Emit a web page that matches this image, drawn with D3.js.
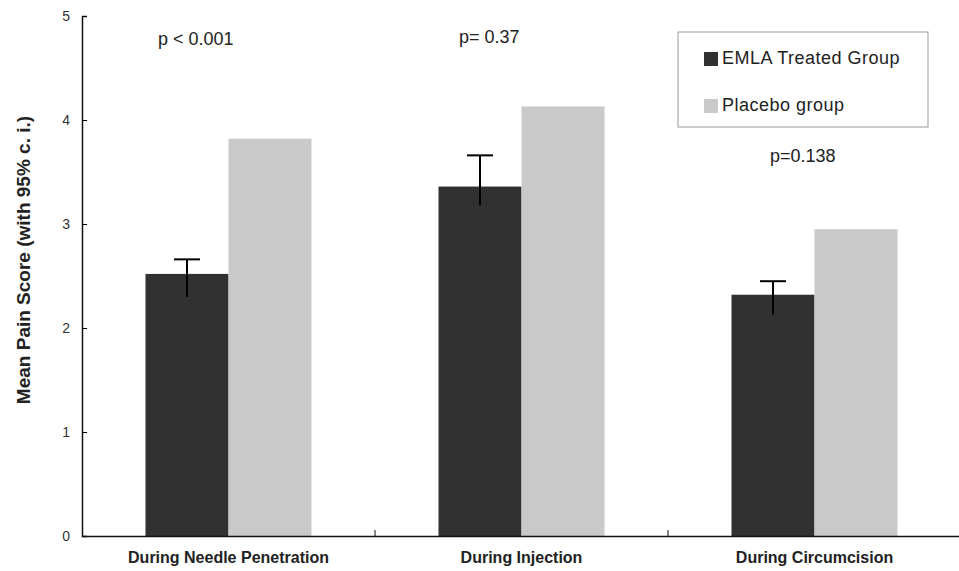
<!DOCTYPE html>
<html>
<head>
<meta charset="utf-8">
<script src="https://cdn.jsdelivr.net/npm/d3@7"></script>
<style>
  body { margin: 0; background: #fff; }
  text { font-family: Arial, "Liberation Sans", sans-serif; }
</style>
</head>
<body>
<script>
// data
var categories = ["During Needle Penetration", "During Injection", "During Circumcision"];
var groups = ["EMLA Treated Group", "Placebo group"];
var emla = [2.52, 3.36, 2.32];
var emlaLow = [2.30, 3.18, 2.13];
var emlaHigh = [2.66, 3.66, 2.45];
var placebo = [3.82, 4.13, 2.95];
var pLabels = ["p < 0.001", "p= 0.37", "p=0.138"];
var pLevels = [4.72, 4.74, 3.6];
var yTicks = [0, 1, 2, 3, 4, 5];

var width = 959, height = 571;
var margin = {top: 16, right: 0, bottom: 35, left: 82};

var svg = d3.select("body").append("svg")
    .attr("width", width)
    .attr("height", height);

var x = d3.scaleBand()
    .domain(categories)
    .range([margin.left, margin.left + 3 * 293]);

var y = d3.scaleLinear()
    .domain([0, 5])
    .range([height - margin.bottom, margin.top]);

var barW = 83;
var colors = d3.scaleOrdinal().domain(groups).range(["#313131", "#c9c9c9"]);

var rows = categories.map((c, i) => {
    return {cat: c, emla: emla[i], lo: emlaLow[i], hi: emlaHigh[i], placebo: placebo[i]};
});

var g = svg.append("g");

g.selectAll("rect.emla").data(rows).enter()
    .append("rect")
        .attr("class", "emla")
        .attr("x", (d) => x(d.cat) + x.bandwidth() / 2 - barW)
        .attr("y", (d) => y(d.emla))
        .attr("width", barW)
        .attr("height", (d) => y(0) - y(d.emla))
        .attr("fill", colors(groups[0]));

g.selectAll("rect.placebo").data(rows).enter()
    .append("rect")
        .attr("class", "placebo")
        .attr("x", (d) => x(d.cat) + x.bandwidth() / 2)
        .attr("y", (d) => y(d.placebo))
        .attr("width", barW)
        .attr("height", (d) => y(0) - y(d.placebo))
        .attr("fill", colors(groups[1]));

// error bars (95% c.i.)
var errX = (d) => x(d.cat) + x.bandwidth() / 2 - barW / 2;
g.selectAll("line.err").data(rows).enter()
    .append("line")
        .attr("x1", errX).attr("x2", errX)
        .attr("y1", (d) => y(d.lo))
        .attr("y2", (d) => y(d.hi))
        .attr("stroke", "#000")
        .attr("stroke-width", 2);
g.selectAll("line.cap").data(rows).enter()
    .append("line")
        .attr("x1", (d) => errX(d) - 13)
        .attr("x2", (d) => errX(d) + 13)
        .attr("y1", (d) => y(d.hi))
        .attr("y2", (d) => y(d.hi))
        .attr("stroke", "#000")
        .attr("stroke-width", 2);

// axes
var leftAxis = d3.axisLeft(y).tickValues(yTicks).tickFormat(d3.format("d")).tickSize(-5).tickPadding(12);
svg.append("g")
    .attr("class", "left axis")
    .attr("transform", "translate(" + margin.left + ",0)")
    .call(leftAxis)
    .call((a) => a.select(".domain").attr("stroke", "#111").attr("stroke-width", 1.5))
    .call((a) => a.selectAll("text").attr("font-size", "14px").attr("fill", "#333"));

var bottomAxis = d3.axisBottom(x).tickSize(0).tickPadding(16);
svg.append("g")
    .attr("class", "bottom axis")
    .attr("transform", "translate(0," + y(0) + ")")
    .call(bottomAxis)
    .call((a) => a.select(".domain").attr("stroke", "#111").attr("stroke-width", 1.5))
    .call((a) => a.selectAll("text")
        .attr("font-size", "16px")
        .attr("font-weight", "bold")
        .attr("fill", "#222"));

// category separators
svg.selectAll("line.sep").data(categories.slice(1)).enter()
    .append("line")
        .attr("x1", (d) => x(d)).attr("x2", (d) => x(d))
        .attr("y1", y(0)).attr("y2", y(0) - 6)
        .attr("stroke", "#111");

// y label
svg.append("text")
    .attr("transform", "rotate(-90)")
    .attr("x", -260)
    .attr("y", 30)
    .attr("text-anchor", "middle")
    .attr("font-size", "19px")
    .attr("font-weight", "bold")
    .attr("fill", "#222")
    .text("Mean Pain Score (with 95% c. i.)");

// p values
var pX = [158, 459, 770];
svg.selectAll("text.p").data(pLabels).enter()
    .append("text")
        .attr("x", (d, i) => pX[i])
        .attr("y", (d, i) => y(pLevels[i]))
        .attr("font-size", "18px")
        .attr("fill", "#222")
        .text((d) => d);

// legend
var lg = svg.append("g").attr("transform", "translate(678,32)");
lg.append("rect")
    .attr("width", 250).attr("height", 95)
    .attr("fill", "#fff").attr("stroke", "#999");
groups.forEach((name, i) => {
    lg.append("rect")
        .attr("x", 26).attr("y", 20 + i * 47)
        .attr("width", 14).attr("height", 14)
        .attr("fill", colors(name));
    lg.append("text")
        .attr("x", 44).attr("y", 32 + i * 47)
        .attr("font-size", "18px")
        .attr("letter-spacing", "0.5px")
        .attr("fill", "#222")
        .text(name);
});
</script>
</body>
</html>
